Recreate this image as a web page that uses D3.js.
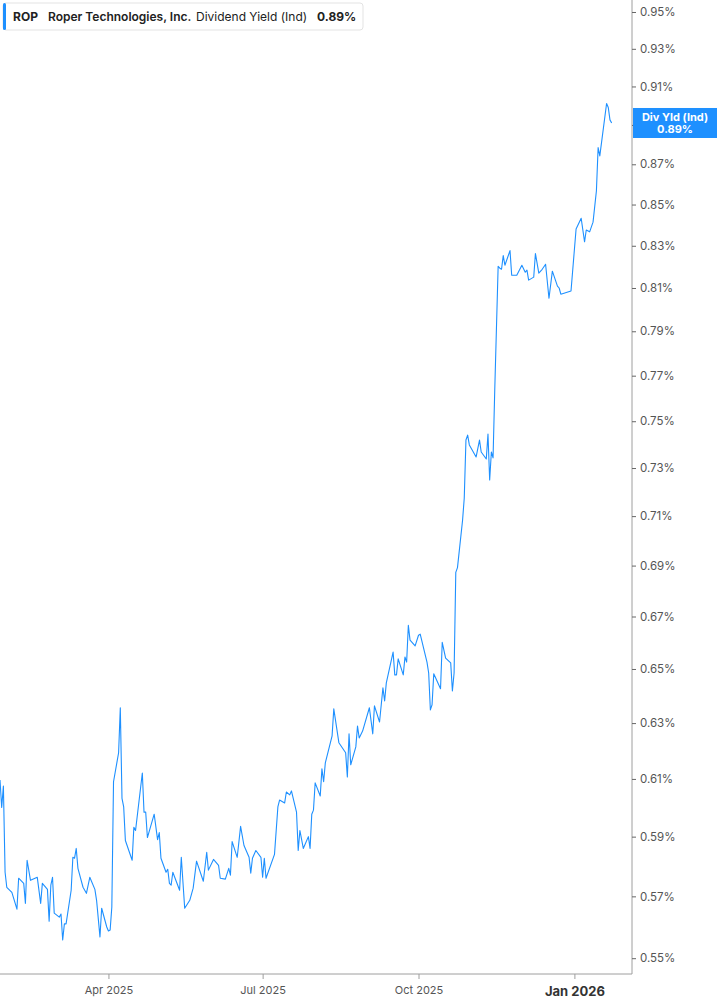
<!DOCTYPE html>
<html>
<head>
<meta charset="utf-8">
<script src="https://cdn.jsdelivr.net/npm/d3@7"></script>
<style>
  body { margin: 0; background: #fff; font-family: Inter, "Noto Sans", sans-serif; }
  svg text { font-family: Inter, "Noto Sans", sans-serif; }
</style>
</head>
<body>
<div class="canvas"></div>
<script>
const WIDTH = 717,
  HEIGHT = 1005,
  PLOT = { right: 632, bottom: 974 },
  LINE_COLOR = "#1e90ff";

const dates = [
  "2025-01-27","2025-01-28","2025-01-29","2025-01-30","2025-01-31","2025-02-03","2025-02-06","2025-02-07",
  "2025-02-10","2025-02-11","2025-02-12","2025-02-14","2025-02-18","2025-02-20","2025-02-21","2025-02-24",
  "2025-02-25","2025-02-26","2025-02-27","2025-02-28","2025-03-03","2025-03-04","2025-03-05","2025-03-06",
  "2025-03-07","2025-03-10","2025-03-11","2025-03-12","2025-03-13","2025-03-14","2025-03-17","2025-03-19",
  "2025-03-21","2025-03-24","2025-03-25","2025-03-27","2025-03-28","2025-03-31","2025-04-01","2025-04-02",
  "2025-04-03","2025-04-04","2025-04-07","2025-04-08","2025-04-09","2025-04-10","2025-04-11","2025-04-15",
  "2025-04-16","2025-04-17","2025-04-21","2025-04-22","2025-04-23","2025-04-24","2025-04-28","2025-04-30",
  "2025-05-01","2025-05-02","2025-05-05","2025-05-06","2025-05-07","2025-05-08","2025-05-09","2025-05-13",
  "2025-05-14","2025-05-16","2025-05-19","2025-05-21","2025-05-23","2025-05-27","2025-05-29","2025-05-30",
  "2025-06-02","2025-06-05","2025-06-06","2025-06-09","2025-06-11","2025-06-12","2025-06-13","2025-06-16",
  "2025-06-18","2025-06-20","2025-06-23","2025-06-24","2025-06-25","2025-06-27","2025-06-30","2025-07-01",
  "2025-07-02","2025-07-03","2025-07-08","2025-07-10","2025-07-11","2025-07-14","2025-07-15","2025-07-17",
  "2025-07-18","2025-07-21","2025-07-22","2025-07-23","2025-07-25","2025-07-28","2025-07-29","2025-07-30",
  "2025-07-31","2025-08-01","2025-08-04","2025-08-05","2025-08-06","2025-08-07","2025-08-11","2025-08-12",
  "2025-08-15","2025-08-19","2025-08-20","2025-08-21","2025-08-22","2025-08-25","2025-08-26","2025-08-27",
  "2025-08-29","2025-09-02","2025-09-04","2025-09-05","2025-09-08","2025-09-10","2025-09-11","2025-09-12",
  "2025-09-16","2025-09-17","2025-09-18","2025-09-19","2025-09-22","2025-09-23","2025-09-24","2025-09-25",
  "2025-09-26","2025-09-29","2025-10-01","2025-10-02","2025-10-06","2025-10-07","2025-10-08","2025-10-09",
  "2025-10-10","2025-10-14","2025-10-15","2025-10-17","2025-10-20","2025-10-21","2025-10-22","2025-10-23",
  "2025-10-24","2025-10-27","2025-10-28","2025-10-29","2025-10-30","2025-10-31","2025-11-04","2025-11-06",
  "2025-11-07","2025-11-10","2025-11-11","2025-11-12","2025-11-13","2025-11-14","2025-11-15","2025-11-17",
  "2025-11-18","2025-11-19","2025-11-20","2025-11-21","2025-11-24","2025-11-25","2025-11-28","2025-12-01",
  "2025-12-03","2025-12-04","2025-12-05","2025-12-08","2025-12-09","2025-12-11","2025-12-13","2025-12-15",
  "2025-12-17","2025-12-19","2025-12-22","2025-12-23","2025-12-24","2025-12-30","2026-01-02","2026-01-05",
  "2026-01-07","2026-01-08","2026-01-10","2026-01-12","2026-01-14","2026-01-15","2026-01-16","2026-01-20",
  "2026-01-21","2026-01-22","2026-01-23"
];

// dividend yield, percent
const yields = [
  0.6096,0.600,0.6075,0.578,0.573,0.5713,0.5658,0.576,
  0.5743,0.5677,0.582,0.5753,0.5763,0.5677,0.5743,0.5723,
  0.5619,0.5737,0.5763,0.5645,0.5632,0.5642,0.5558,0.561,
  0.561,0.572,0.583,0.5827,0.586,0.5793,0.573,0.571,
  0.5763,0.5723,0.5687,0.5568,0.5661,0.560,0.5587,0.559,
  0.5665,0.609,0.6193,0.6356,0.6032,0.6002,0.5887,0.582,
  0.5932,0.5921,0.6121,0.5984,0.5984,0.5897,0.5977,0.589,
  0.5914,0.5827,0.578,0.579,0.5743,0.5737,0.578,0.572,
  0.583,0.5661,0.5687,0.5727,0.5817,0.575,0.5847,0.5787,
  0.5823,0.5803,0.576,0.5757,0.5793,0.577,0.5883,0.583,
  0.5935,0.587,0.583,0.5777,0.5827,0.5853,0.583,0.5763,
  0.5827,0.576,0.584,0.6002,0.6026,0.6016,0.6054,0.6044,
  0.6058,0.5984,0.5853,0.5921,0.586,0.590,0.586,0.5977,
  0.5991,0.6086,0.604,0.6136,0.609,0.6157,0.6254,0.6352,
  0.6229,0.6193,0.6107,0.6261,0.615,0.6214,0.6289,0.6246,
  0.6271,0.6356,0.6261,0.6363,0.6304,0.643,0.6381,0.6448,
  0.6564,0.6478,0.6478,0.6538,0.6478,0.6545,0.6526,0.6666,
  0.6609,0.6587,0.6628,0.6632,0.6526,0.6485,0.6348,0.6367,
  0.6482,0.6426,0.6601,0.6541,0.6523,0.6418,0.6485,0.6873,
  0.6892,0.7083,0.7175,0.7419,0.744,0.7398,0.7347,0.7419,
  0.7368,0.7338,0.7445,0.725,0.7368,0.7343,0.7638,0.8202,
  0.8193,0.8188,0.8253,0.8207,0.8277,0.816,0.816,0.8207,
  0.8174,0.8184,0.8137,0.8151,0.8263,0.817,0.8188,0.8212,
  0.8052,0.8179,0.8109,0.810,0.8071,0.8086,0.8381,0.8433,
  0.8319,0.8376,0.8367,0.8414,0.8568,0.8784,0.8742,0.9011,
  0.899,0.8926,0.891
];

const yTicks = [0.55,0.57,0.59,0.61,0.63,0.65,0.67,0.69,0.71,0.73,0.75,0.77,0.79,0.81,0.83,0.85,0.87,0.89,0.91,0.93,0.95];
const xTicks = ["2025-04-01","2025-07-01","2025-10-01","2026-01-01"];
const xDomain = ["2025-01-27","2026-02-04"];
const yDomain = [0.545, 0.9566];

const parse = d3.timeParse("%Y-%m-%d");
const series = dates.map((d, i) => ({ date: parse(d), value: yields[i] }));

const svg = d3.select(".canvas").append("svg")
  .attr("width", WIDTH)
  .attr("height", HEIGHT);

const x = d3.scaleTime().domain(xDomain.map(parse)).range([0, PLOT.right]);
const y = d3.scaleLog().domain(yDomain).range([PLOT.bottom, 0]);

// right axis
const yAxis = svg.append("g")
  .attr("transform", `translate(${PLOT.right},0)`)
  .call(d3.axisRight(y).tickValues(yTicks).tickSize(4).tickPadding(4)
    .tickFormat(d => d.toFixed(2) + "%"));
yAxis.select(".domain").attr("stroke", "#9e9e9e").attr("d", `M0,0V${PLOT.bottom}`);
yAxis.selectAll(".tick line").attr("stroke", "#666");
yAxis.selectAll(".tick text").attr("fill", "#555").style("font-size", "11.5px");

// bottom axis
const isYear = d => d.getMonth() === 0;
const xAxis = svg.append("g")
  .attr("transform", `translate(0,${PLOT.bottom})`)
  .call(d3.axisBottom(x).tickValues(xTicks.map(parse)).tickSize(5).tickPadding(7)
    .tickFormat(d3.timeFormat("%b %Y")));
xAxis.select(".domain").attr("stroke", "#9e9e9e").attr("d", `M0,0H${PLOT.right}`);
xAxis.selectAll(".tick line").attr("stroke", "#9e9e9e");
xAxis.selectAll(".tick text")
  .attr("fill", d => isYear(d) ? "#333" : "#555")
  .style("font-size", d => isYear(d) ? "13px" : "11px")
  .style("font-weight", d => isYear(d) ? "700" : "400")
  .attr("dy", d => isYear(d) ? "0.8em" : "0.71em");

// line
svg.append("clipPath").attr("id", "plot-clip")
  .append("rect").attr("width", PLOT.right).attr("height", PLOT.bottom);

svg.append("path")
  .datum(series)
  .attr("clip-path", "url(#plot-clip)")
  .attr("fill", "none")
  .attr("stroke", LINE_COLOR)
  .attr("stroke-width", 1.1)
  .attr("stroke-linejoin", "round")
  .attr("d", d3.line().x(d => x(d.date)).y(d => y(d.value)));

// last value tag, covers the nearby tick label like the original
const last = series[series.length - 1];
const tag = svg.append("g").attr("transform", `translate(${PLOT.right + 1},${y(last.value)})`);
tag.append("rect").attr("x", 0).attr("y", -15).attr("width", WIDTH - PLOT.right - 1).attr("height", 30)
  .attr("fill", LINE_COLOR);
tag.append("text").attr("x", 42).attr("y", -2).attr("text-anchor", "middle")
  .attr("fill", "#fff").style("font-size", "11px").style("font-weight", "700").text("Div Yld (Ind)");
tag.append("text").attr("x", 42).attr("y", 10).attr("text-anchor", "middle")
  .attr("fill", "#fff").style("font-size", "11px").style("font-weight", "700")
  .text(last.value.toFixed(2) + "%");

// legend box
const legend = svg.append("g").attr("transform", "translate(3,3)");
legend.append("rect").attr("width", 360).attr("height", 27).attr("rx", 3)
  .attr("fill", "#fff").attr("stroke", "#e3e3e3");
legend.append("rect").attr("x", 0).attr("y", 0).attr("width", 3).attr("height", 27).attr("rx", 1.5)
  .attr("fill", LINE_COLOR);
const legendText = legend.append("text").attr("y", 18).attr("fill", "#222").style("font-size", "12px");
legendText.append("tspan").attr("x", 10).style("font-weight", "700").text("ROP");
legendText.append("tspan").attr("x", 45).style("font-weight", "600").text("Roper Technologies, Inc.");
legendText.append("tspan").attr("x", 193).style("font-weight", "400").text("Dividend Yield (Ind)");
legendText.append("tspan").attr("x", 314).style("font-weight", "700")
  .text(last.value.toFixed(2) + "%");
</script>
</body>
</html>
